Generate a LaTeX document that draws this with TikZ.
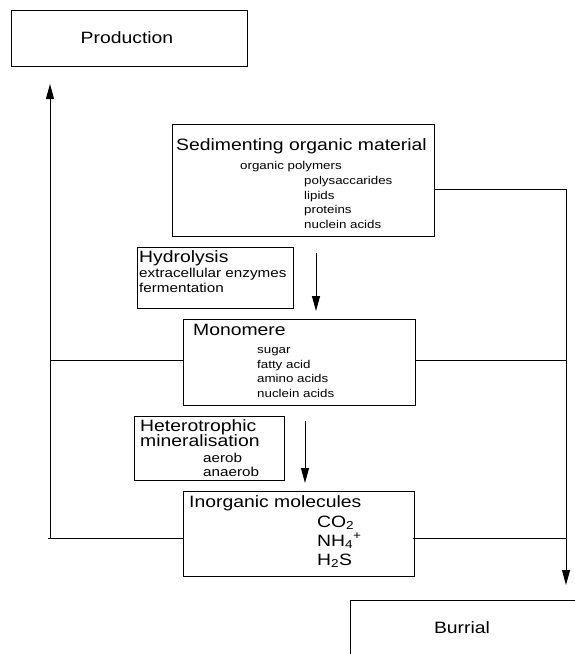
\documentclass[tikz,border=0pt]{standalone}
\usepackage{fontspec}
\setmainfont[FakeStretch=1.18]{Liberation Sans}
\usetikzlibrary{arrows.meta}
\newcommand\bigtxt{\fontsize{16.4}{19}\selectfont}
\newcommand\midtxt{\fontsize{12.9}{15}\selectfont}
\newcommand\smalltxt{\fontsize{11.3}{14}\selectfont}
\begin{document}
\begin{tikzpicture}[x=1pt,y=-1pt,
  box/.style={draw, line width=1pt, inner sep=0pt, anchor=north west},
  lbl/.style={inner sep=0pt, anchor=base west},
  flow/.style={line width=1pt},
  arr/.style={line width=1pt, -{Triangle[length=15pt,width=8pt]}}]
\useasboundingbox (0,0) rectangle (575,654);

% boxes
\node[box, minimum width=236pt, minimum height=56pt] (prod) at (11,10) {};
\node[box, minimum width=262pt, minimum height=112pt] (sed) at (172,124) {};
\node[box, minimum width=156pt, minimum height=61pt] (hyd) at (137,247) {};
\node[box, minimum width=232pt, minimum height=86pt] (mono) at (183,319) {};
\node[box, minimum width=150pt, minimum height=64pt] (het) at (134,416) {};
\node[box, minimum width=231pt, minimum height=85pt] (inorg) at (183,491) {};
\node[inner sep=0pt, anchor=north west, minimum width=226pt, minimum height=55pt] (bur) at (350,600) {};
\draw[line width=1pt] (bur.south west) -- (bur.north west) -- (bur.north east);

% labels
\node[lbl, anchor=base] (tprod) at (127,43) {\bigtxt Production};
\node[lbl, anchor=base] (tbur) at (462,633) {\bigtxt Burrial};

\node[lbl] (tsed) at (176,150) {\bigtxt Sedimenting organic material};
\node[lbl] (sed1) at (240,169) {\smalltxt organic polymers};
\node[lbl] (sed2) at (304,184) {\smalltxt polysaccarides};
\node[lbl] (sed3) at (304,199) {\smalltxt lipids};
\node[lbl] (sed4) at (304,213) {\smalltxt proteins};
\node[lbl] (sed5) at (304,228) {\smalltxt nuclein acids};

\node[lbl] (thyd) at (139,262) {\bigtxt Hydrolysis};
\node[lbl] (hyd1) at (139,277) {\midtxt extracellular enzymes};
\node[lbl] (hyd2) at (139,292) {\midtxt fermentation};

\node[lbl] (tmono) at (193,335) {\bigtxt Monomere};
\node[lbl] (mono1) at (257,353) {\smalltxt sugar};
\node[lbl] (mono2) at (257,368) {\smalltxt fatty acid};
\node[lbl] (mono3) at (257,382) {\smalltxt amino acids};
\node[lbl] (mono4) at (257,397) {\smalltxt nuclein acids};

\node[lbl] (thet1) at (140,431) {\bigtxt Heterotrophic};
\node[lbl] (thet2) at (140,446) {\bigtxt mineralisation};
\node[lbl] (het1) at (203,462) {\midtxt aerob};
\node[lbl] (het2) at (203,476) {\midtxt anaerob};

\node[lbl] (tinorg) at (189,507) {\bigtxt Inorganic molecules};
\node[lbl] (inorg1) at (317,527) {\bigtxt CO\textsubscript{2}};
\node[lbl] (inorg2) at (317,546) {\bigtxt NH\textsubscript{4}\textsuperscript{+}};
\node[lbl] (inorg3) at (317,565) {\bigtxt H\textsubscript{2}S};

% routing points
\coordinate (rtop) at (566,189);
\coordinate (rend) at (566,585);
\coordinate (lbot) at (50,538);
\coordinate (ltop) at (50,84);
\coordinate (a1s) at (316,253);
\coordinate (a1e) at (316,311);
\coordinate (a2s) at (305,421);
\coordinate (a2e) at (305,483);

% burial branch
\draw[arr] (sed.east |- rtop) -- (rtop) -- (rend);
\draw[flow] ([yshift=2pt]mono.east) -- ([yshift=2pt]mono.east -| rtop);
\draw[flow] ([yshift=-4pt,xshift=-2pt]inorg.east) -- ([yshift=-4pt]inorg.east -| rtop);

% production branch
\draw[arr] (lbot) -- (ltop);
\draw[flow] ([yshift=2pt]mono.west) -- ([yshift=2pt]mono.west -| lbot);
\draw[flow] ([yshift=-4pt]inorg.west) -- ([yshift=-4pt,xshift=-2pt]inorg.west -| lbot);

% process steps
\draw[arr] (a1s) -- (a1e);
\draw[arr] (a2s) -- (a2e);
\end{tikzpicture}
\end{document}
